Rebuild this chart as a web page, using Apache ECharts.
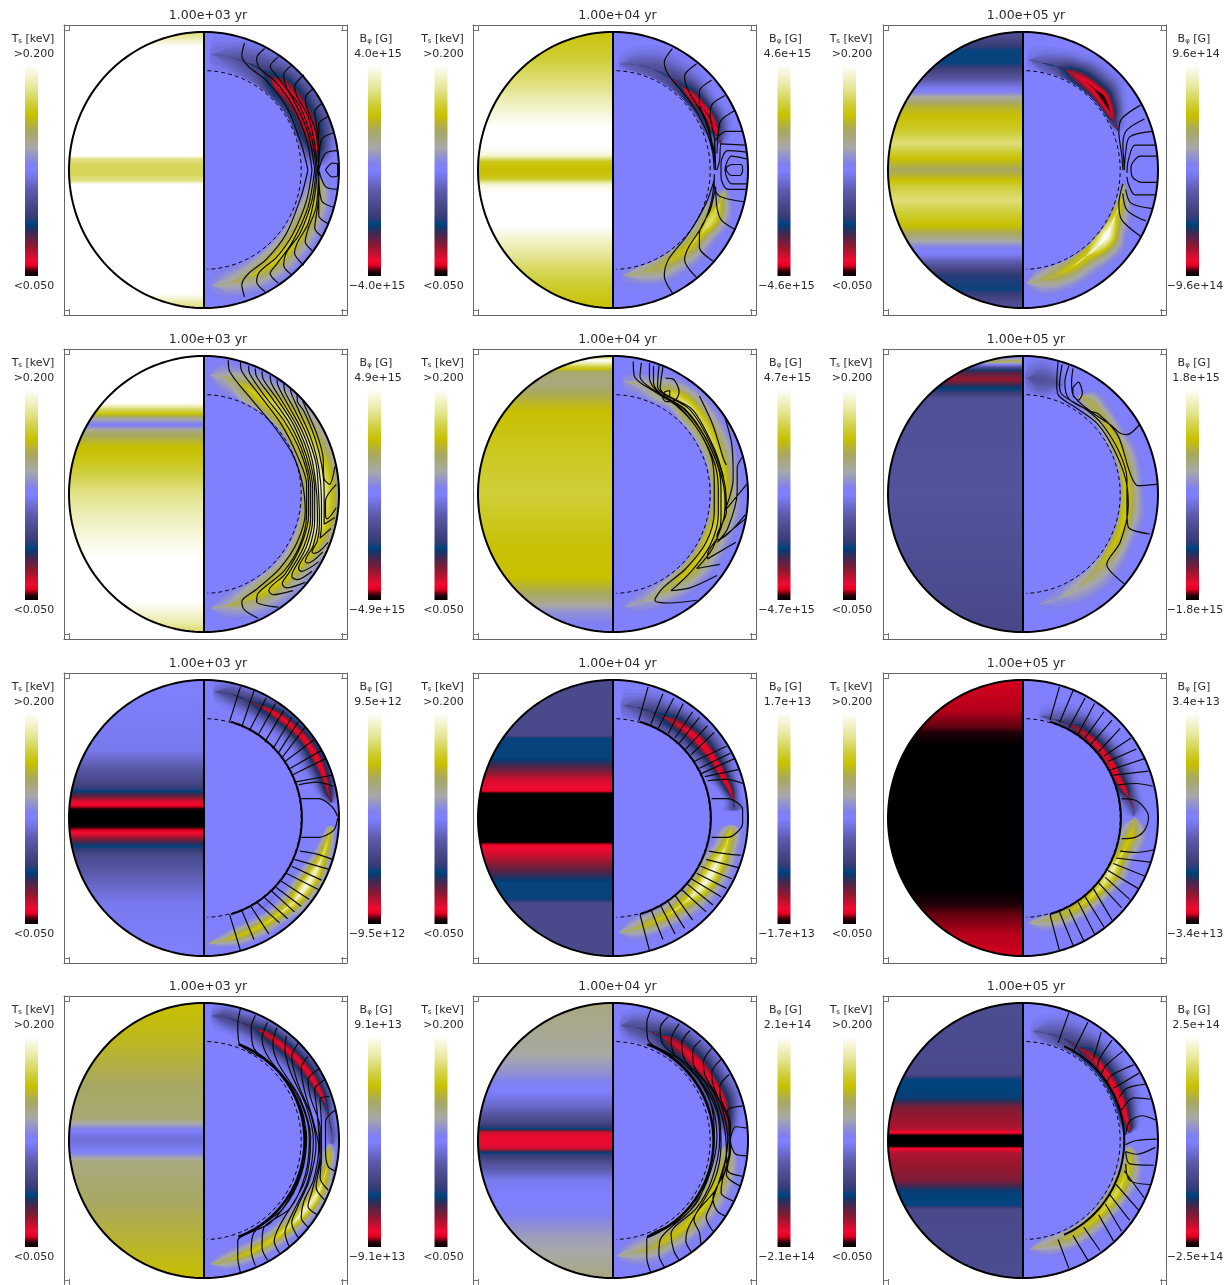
<!DOCTYPE html>
<html style="height: 100%">

<head>
  <meta charset="utf-8">
  <title>Surface temperature and toroidal field</title>
</head>

<body style="height: 100%; margin: 0; background: #fff">
  <div id="container" style="width: 1229px; height: 1285px"></div>
  <script src="https://cdn.jsdelivr.net/npm/echarts@6/dist/echarts.min.js"></script>
  <script type="text/javascript">
    var ages = ['1.00e+03 yr', '1.00e+04 yr', '1.00e+05 yr'];
    var fieldLabels = ['4.0e+15', '4.6e+15', '9.6e+14', '4.9e+15', '4.7e+15', '1.8e+15',
      '9.5e+12', '1.7e+13', '3.4e+13', '9.1e+13', '2.1e+14', '2.5e+14'];

    // colour table of the bars, position 0 (bottom) to 1 (top)
    var tablePos = [0, 0.02, 0.05, 0.075, 0.14, 0.2, 0.235, 0.25, 0.265, 0.3, 0.4, 0.5, 0.53, 0.61, 0.69, 0.76, 0.82, 0.9, 1];
    var tableCol = ['#000000', '#200008', '#e00020', '#f00a30', '#901830', '#402850', '#0a3a70', '#004580', '#283c78',
      '#40407c', '#5a5aaa', '#8080ff', '#8080f0', '#a8a8a8', '#a8a860', '#c8c000', '#d0d040', '#e8e8a0', '#ffffff'];

    // surface temperature per panel: [height along the axis in % of radius, T in keV]
    var tempRows = [
      [[100, .18], [96, .186], [92, .195], [87, .205], [11, .205], [8, .182], [3, .176], [-3, .176], [-8, .182], [-11, .205], [-87, .205], [-92, .195], [-96, .186], [-100, .18]],
      [[100, .166], [85, .17], [60, .182], [40, .195], [22, .205], [11, .195], [6, .168], [0, .163], [-6, .168], [-11, .195], [-22, .205], [-35, .205], [-50, .192], [-70, .178], [-85, .17], [-100, .165]],
      [[100, .105], [92, .095], [87, .088], [77, .088], [70, .1], [63, .115], [58, .125], [52, .145], [46, .158], [39, .164], [29, .17], [19, .18], [12, .17], [5, .16], [0, .153], [-5, .16], [-12, .172], [-22, .18], [-31, .172], [-41, .163], [-48, .15], [-56, .13], [-62, .122], [-69, .105], [-76, .09], [-87, .088], [-93, .098], [-100, .105]],
      [[100, .205], [67, .205], [62, .18], [58, .165], [54, .14], [50, .127], [45, .15], [35, .163], [23, .168], [4, .18], [-18, .19], [-47, .2], [-78, .2], [-92, .188], [-100, .178]],
      [[100, .165], [97, .2], [93.5, .18], [88.6, .152], [81, .148], [60, .164], [35, .168], [0, .172], [-37, .165], [-61, .164], [-76, .15], [-85, .135], [-100, .125]],
      [[100, .12], [96, .155], [92, .105], [89, .08], [83, .07], [78, .083], [74.5, .09], [69, .104], [0, .106], [-100, .099]],
      [[100, .125], [49, .122], [35, .108], [25, .098], [20, .088], [15.5, .075], [12, .063], [9.4, .06], [6.3, .052], [4.6, .05], [-4.3, .05], [-6.3, .052], [-10, .06], [-12.3, .064], [-17, .078], [-21, .088], [-27, .1], [-42.5, .112], [-62, .122], [-100, .125]],
      [[100, .1], [60, .1], [58, .088], [44, .088], [37, .078], [27.5, .064], [20, .06], [17.4, .05], [-17, .05], [-20, .06], [-26, .064], [-38, .077], [-47, .088], [-59, .088], [-62, .1], [-100, .1]],
      [[100, .0572], [78, .0565], [66, .0545], [59, .052], [53, .05], [-52, .05], [-59, .052], [-69, .0545], [-84, .0565], [-100, .0572]],
      [[100, .164], [70, .16], [40, .153], [16, .15], [10, .135], [5.5, .122], [.7, .118], [-5, .122], [-10, .132], [-15, .148], [-44, .153], [-70, .158], [-100, .164]],
      [[100, .148], [65, .143], [50, .135], [36, .125], [24, .115], [14, .1], [8.7, .088], [6, .065], [3, .062], [-3, .062], [-6, .065], [-9, .088], [-17, .105], [-29, .122], [-51, .128], [-70, .138], [-100, .148]],
      [[100, .102], [48, .1], [45, .088], [31, .086], [24, .073], [9, .068], [5.5, .06], [3.6, .05], [-4, .05], [-5.8, .06], [-9, .068], [-29, .073], [-37, .086], [-47.6, .088], [-50, .1], [-100, .102]]
    ];

    // field ridges per panel: [colatitude deg, radius %, half width %, peak as fraction of the bar end]
    var ridges = [
      [
        [[4, 84, 7, -.12], [12, 84, 7, -.22], [22, 84, 9, -.3], [30, 84, 9, -.42], [36, 83, 9, -.62], [42, 83, 9, -.86], [50, 84, 9, -.9], [60, 84, 9, -.9], [70, 84, 9, -.9], [78, 84.5, 6, -.88], [83, 85, 5, -.55], [87, 85, 4, -.15]],
        [[176, 84, 7, .12], [168, 84, 7, .25], [158, 84, 7, .38], [150, 84, 7, .5], [140, 84, 7, .6], [128, 84, 7, .62], [116, 84, 7, .62], [106, 85, 6, .6], [98, 85, 5, .45], [93, 85, 4, .12]]
      ],
      [
        [[4, 77, 6, -.1], [12, 78, 7, -.22], [22, 79, 8, -.3], [32, 79, 8, -.38], [40, 79, 7, -.55], [46, 79, 6, -.85], [54, 80, 5, -.92], [62, 81, 5, -.95], [68, 81, 5, -.88], [73, 82, 4, -.4], [77, 82, 3, -.1]],
        [[174, 77, 6, .12], [165, 77, 6, .3], [155, 78, 7, .42], [145, 78, 7, .5], [135, 79, 7, .55], [125, 80, 6, .58], [118, 81, 6, .75], [112, 82, 6, .68], [106, 83, 5, .45], [100, 84, 4, .15]]
      ],
      [
        [[3, 80, 6, -.08], [10, 79, 6, -.22], [18, 79, 6, -.35], [23, 79, 6, -.55], [28, 79, 6, -.78], [35, 79, 7, -.88], [42, 79, 7, -.93], [48, 79, 7, -1], [53, 78, 6, -.98], [58, 77, 5, -.85], [63, 76, 4, -.5], [68, 76, 3, -.12]],
        [[178, 82, 5, .1], [172, 81, 6, .3], [163, 80, 7, .45], [153, 79, 7, .55], [143, 78, 7, .6], [135, 78, 7, .85], [128, 78, 7, 1], [122, 77, 6, .85], [116, 76, 6, .62], [110, 76, 5, .55], [104, 76, 4, .35], [98, 76, 3, .12]]
      ],
      [
        [[3, 86, 6, .1], [8, 86, 7, .22], [15, 85, 7, .35], [22, 83, 8, .5], [30, 82, 8, .6], [40, 83, 9, .68], [55, 84, 10, .75], [70, 85, 10, .82], [85, 86, 10, .9], [100, 86, 10, .92], [112, 86, 9, .8], [125, 85, 8, .65], [137, 84, 8, .6], [150, 83, 8, .52], [160, 83, 7, .38], [170, 83, 6, .2], [177, 83, 5, .08]]
      ],
      [
        [[6, 82, 5, .15], [15, 82, 6, .25], [25, 83, 7, .45], [33, 85, 6, .65], [42, 84, 7, .75], [55, 83, 7, .7], [70, 82, 7, .68], [85, 81, 7, .68], [100, 81, 7, .68], [112, 79, 7, .65], [122, 79, 7, .6], [134, 79, 7, .55], [146, 79, 7, .42], [156, 80, 6, .3], [166, 81, 6, .18], [175, 82, 5, .08]]
      ],
      [
        [[30, 82, 4, .1], [36, 83, 5, .42], [45, 81, 5, .45], [55, 79, 5, .5], [70, 78, 6, .55], [85, 77, 6, .58], [100, 77, 7, .58], [112, 77, 6, .55], [125, 77, 7, .5], [137, 78, 8, .35], [150, 79, 8, .24], [162, 80, 7, .14], [172, 81, 6, .07]],
        [[2, 84, 7, -.15], [8, 84, 8, -.28], [14, 84, 7, -.25], [20, 84, 5, -.1]]
      ],
      [
        [[5, 84, 2, .1], [15, 84, 3, .22], [30, 83, 3, .22], [45, 83, 3, .22], [60, 86, 3, .15], [72, 90, 2, .08]],
        [[160, 82, 2, -.1], [140, 81, 3, -.2], [125, 83, 3, -.2], [112, 87, 2, -.1]],
        [[5, 92, 4, -.15], [12, 92, 5, -.35], [20, 91, 5, -.45], [27, 91, 5, -.65], [35, 92, 5, -.85], [45, 93, 5, -.88], [55, 94, 5, -.9], [65, 94, 5, -.9], [73, 94, 4, -.85], [79, 94, 3, -.75], [83, 95, 2, -.25]],
        [[178, 91, 3, .12], [172, 90, 3, .3], [163, 89, 4, .52], [152, 89, 4, .58], [142, 89, 4, .62], [133, 90, 5, .75], [124, 90, 5, .95], [116, 91, 5, .88], [108, 92, 4, .68], [100, 93, 3, .58], [94, 94, 2, .35]]
      ],
      [
        [[5, 82, 6, -.15], [12, 82, 6, -.28], [20, 82, 7, -.42], [26, 82, 6, -.6], [33, 83, 6, -.78], [42, 84, 6, -.88], [52, 85, 6, -.9], [62, 86, 5, -.9], [70, 87, 4, -.92], [77, 89, 3, -.85], [82, 90, 3, -.4], [86, 90, 4, -.3]],
        [[177, 83, 4, .1], [170, 82, 5, .3], [160, 81, 5, .5], [150, 81, 5, .55], [140, 81, 6, .6], [130, 82, 6, .85], [122, 83, 6, .95], [112, 84, 6, .85], [104, 86, 5, .65], [98, 87, 5, .55], [94, 88, 4, .3]]
      ],
      [
        [[10, 75, 5, -.1], [18, 75, 6, -.25], [26, 76, 6, -.45], [33, 76, 6, -.75], [40, 76, 5, -.85], [50, 76, 5, -.88], [60, 76, 5, -.92], [68, 76, 5, -.88], [75, 78, 4, -.85], [80, 80, 4, -.45], [85, 82, 4, -.3], [89, 82, 3, -.1]],
        [[177, 76, 4, .1], [170, 76, 5, .28], [160, 76, 5, .45], [150, 76, 5, .52], [140, 76, 5, .6], [130, 76, 5, .75], [120, 76, 6, .85], [112, 77, 5, .65], [105, 79, 6, .55], [99, 81, 6, .55], [94, 82, 5, .45], [90, 83, 3, .12]]
      ],
      [
        [[4, 91, 4, -.15], [10, 91, 5, -.35], [18, 90, 5, -.4], [25, 90, 5, -.55], [31, 90, 5, -.8], [40, 90, 5, -.87], [50, 91, 5, -.88], [60, 92, 5, -.88], [68, 93, 4, -.85], [74, 94, 3, -.6], [80, 94, 3, -.3], [88, 95, 3, -.25], [93, 95, 2, -.1]],
        [[177, 90, 3, .12], [170, 89, 4, .35], [160, 88, 4, .52], [150, 88, 4, .58], [142, 88, 4, .62], [133, 89, 4, .72], [125, 90, 4, .9], [116, 92, 4, .85], [108, 93, 4, .6], [102, 93, 3, .55], [96, 93, 3, .5], [92, 93, 2, .2]]
      ],
      [
        [[4, 84, 5, -.12], [10, 84, 6, -.3], [18, 84, 7, -.35], [24, 84, 7, -.5], [30, 84, 7, -.78], [40, 84, 7, -.88], [50, 84, 7, -.9], [60, 85, 6, -.88], [70, 86, 6, -.88], [78, 86, 4, -.82], [84, 86, 3, -.5], [88, 86, 2, -.1]],
        [[178, 84, 5, .1], [170, 83, 6, .28], [160, 83, 6, .42], [150, 82, 6, .52], [140, 82, 6, .55], [130, 82, 6, .58], [120, 83, 6, .6], [110, 84, 6, .58], [102, 85, 5, .55], [96, 85, 4, .45], [92, 85, 3, .15]]
      ],
      [
        [[5, 80, 6, -.08], [12, 80, 7, -.22], [22, 80, 8, -.35], [30, 79, 8, -.45], [37, 79, 7, -.75], [45, 79, 6, -.85], [55, 78, 6, -.88], [65, 78, 6, -.88], [72, 78, 5, -.9], [78, 78, 4, -.88], [83, 79, 3, -.8], [86, 79, 2, -.15]],
        [[176, 79, 4, .1], [168, 78, 5, .28], [158, 78, 5, .42], [148, 78, 5, .5], [138, 78, 5, .55], [128, 78, 5, .65], [118, 79, 5, .7], [110, 80, 6, .58], [103, 81, 5, .52], [97, 80, 4, .45], [93, 79, 3, .12]]
      ]
    ];

    // inner thick contour per panel: [first colatitude, last colatitude, radius %, line width], null if none
    var innerRings = [null, null, null, null, null, null,
      [16, 164, 72.5, 2], [16, 164, 72.5, 2], [16, 164, 72.5, 2],
      [20, 160, 74.5, 2.5], [20, 160, 74.5, 2.5], [24, 156, 75, 2]];

    // contours per panel, each one a flat list x, y, x, y ... in % of radius
    var contours1 = [
      [30, 92, 28, 83, 33, 75, 46, 65, 61, 46, 72, 19, 77, 0],
      [45, 88, 39, 81, 41, 74, 54, 63, 66, 46, 76, 22, 80, 0],
      [55, 82, 49, 75, 54, 68, 65, 53, 77, 27, 82, 0],
      [65, 76, 59, 69, 61, 60, 71, 46, 80, 22, 83, 0],
      [74, 69, 67, 60, 69, 53, 77, 39, 82, 19, 84, 0],
      [81, 59, 75, 52, 77, 43, 83, 27, 85, 0],
      [87, 48, 82, 42, 83, 34, 85, 19, 85, 5, 84, 0],
      [92, 39, 85, 33, 85, 19, 85, 0],
      [96, 27, 87, 22, 85, 0],
      [99, 14, 90, 12, 85, 0],
      [90, 0, 95, 5, 99, 4, 99, 0],
      [30, -92, 28, -83, 33, -75, 46, -65, 61, -46, 72, -19, 77, 0],
      [45, -88, 39, -81, 41, -74, 54, -63, 66, -46, 76, -22, 80, 0],
      [55, -82, 49, -75, 54, -68, 65, -53, 77, -27, 82, 0],
      [65, -76, 59, -69, 61, -60, 71, -46, 80, -22, 83, 0],
      [74, -69, 67, -60, 69, -53, 77, -39, 82, -19, 84, 0],
      [81, -59, 75, -52, 77, -43, 83, -27, 85, 0],
      [87, -48, 82, -42, 83, -34, 85, -19, 85, -5, 84, 0],
      [92, -39, 85, -33, 85, -19, 85, 0],
      [96, -27, 87, -22, 85, 0],
      [99, -14, 90, -12, 85, 0],
      [90, 0, 95, -5, 99, -4, 99, 0]
    ];
    var contours2 = [
      [44, 88, 38, 78, 41, 69, 56, 51, 68, 31, 74, 12, 75, 0],
      [62, 77, 53, 68, 56, 57, 67, 39, 73, 19, 75, 0],
      [73, 65, 64, 57, 64, 48, 70, 34, 75, 12],
      [83, 54, 73, 47, 72, 39, 75, 24, 76, 0],
      [90, 43, 80, 36, 78, 28, 77, 12],
      [96, 28, 84, 28, 75, 19, 75, 5],
      [98, 18, 80, 19, 79, 7, 77, 0],
      [99, 13, 85, 14, 80, 5, 80, -5, 85, -14, 99, -14],
      [99, 8, 88, 10, 83, 0, 88, -10, 99, -10],
      [84, 2, 88, 4, 95, 4, 96, 0, 94, -4, 88, -4, 84, 0, 84, 2],
      [97, -23, 79, -19, 75, -12, 75, -3],
      [44, -89, 38, -77, 41, -65, 56, -46, 69, -24, 75, -7],
      [62, -78, 53, -65, 56, -56, 67, -39, 73, -22, 75, -7],
      [74, -66, 64, -56, 64, -46, 72, -29, 76, -12],
      [90, -43, 80, -36, 77, -27, 76, -12]
    ];
    var contours3 = [
      [87, 47, 73, 37, 71, 27, 73, 12, 74, 0],
      [90, 37, 77, 29, 74, 19, 75, 2],
      [96, 28, 79, 24, 76, 12, 75, 0],
      [98, 18, 83, 18, 78, 7, 77, -2],
      [99, 10, 87, 10, 80, 2, 81, -5, 88, -9, 99, -9],
      [98, -18, 83, -18, 78, -10, 77, -5],
      [96, -28, 80, -24, 76, -14],
      [91, -37, 77, -29, 74, -17],
      [87, -48, 73, -36, 71, -24, 74, -10]
    ];
    var contours4 = [
      [18, 97, 19, 89, 34, 70, 51, 50, 66, 28, 73, 7, 75, -13, 69, -35, 56, -54, 39, -69, 28, -78, 30, -84, 40, -90],
      [27, 96, 28, 89, 41, 72, 57, 51, 69, 28, 76, 7, 76, -15, 71, -37, 59, -56, 40, -72, 39, -78, 55, -82],
      [33, 93, 34, 87, 45, 71, 60, 52, 72, 29, 77.5, 7, 77.5, -15, 72, -37, 60, -58, 48, -70, 51, -73, 66, -70],
      [38, 91, 39, 85, 50, 70, 64, 50, 74, 28, 79, 5, 79, -17, 74, -38, 63, -57, 58, -65, 61, -68, 75, -64],
      [43, 89, 44, 83, 54, 69, 67, 49, 76, 27, 80.5, 4, 80.5, -18, 76, -38, 66, -56, 65, -60, 69, -62, 80, -56],
      [49, 86, 50, 80, 58, 67, 70, 47, 78, 26, 82, 2, 82, -19, 78, -39, 70, -54, 72, -56, 85, -49],
      [54, 83, 55, 78, 62, 65, 73, 45, 80, 25, 83.5, 0, 84, -20, 81, -37, 75, -49, 77, -50, 88, -42],
      [59, 80, 60, 74, 66, 63, 76, 43, 83, 22, 85, -2, 85.5, -21, 84, -34, 80, -42, 82, -43, 92, -35],
      [64, 76, 65, 72, 70, 61, 79, 41, 85, 19, 87, -4, 87, -24, 86, -32, 94, -25],
      [69, 72, 69, 68, 74, 60, 82, 41, 87, 22, 89, 2, 89, -18, 89, -22, 97, -17],
      [73, 68, 75, 63, 83, 45, 88, 28, 89, 11, 93, 7, 97, 20],
      [98, 7, 90, -5, 90, -15, 91, -18, 98, -10]
    ];
    var contours5 = [
      [15, 96, 16, 85, 31, 74, 47, 64, 62, 48, 73, 26, 75, 7, 75, -13, 69, -35, 54, -54, 37, -68, 31, -77, 42, -79, 62, -77],
      [21, 95, 20, 85, 32, 74, 49, 63, 64, 45, 75, 23, 78, 4, 78, -15, 72, -37, 58, -56, 43, -70, 57, -68, 77, -59],
      [27, 95, 27, 84, 33, 74, 52, 62, 67, 43, 78, 19, 80, 2, 80, -18, 74, -39, 62, -54, 79, -51],
      [30, 93, 30, 81, 35, 73, 54, 61, 69, 40, 80, 14, 83, -6, 82, -18, 77, -32, 70, -44, 70, -47, 91, -35],
      [34, 93, 33, 78, 57, 61, 73, 35, 83, 6, 84, -13, 77, -31, 78, -33, 98, -15],
      [37, 92, 35, 77, 59, 61, 75, 33, 82, 12],
      [64, 71, 74, 50, 82, 25, 84, 21],
      [83, 55, 88, 36, 89, 11, 83, -12, 99, 7],
      [96, 27, 92, 19, 92, 2, 85, -25, 77, -35, 98, -18],
      [39, 84, 45, 83, 49, 74, 46, 68, 39, 67, 36, 72],
      [38, 74, 42, 75, 42, 71, 38, 70, 38, 74]
    ];
    var contours6 = [
      [26, 96, 25, 81, 26, 72, 40, 62, 55, 51, 67, 33, 76, 11, 78, -8, 72, -35, 62, -51, 75, -65],
      [29, 94, 27, 79, 29, 72, 47, 61, 59, 50, 71, 31, 77, 11, 77, -13, 78, -24, 94, -29],
      [34, 93, 31, 81, 34, 69, 50, 60, 56, 58, 70, 43, 78, 19, 81, 11, 85, 6, 99, 7],
      [37, 91, 36, 81, 37, 72, 50, 60, 65, 50, 72, 44, 77, 43, 86, 50],
      [37, 77, 41, 81, 44, 73, 41, 68, 37, 72, 37, 77]
    ];
    var contours7 = [
      [19, 70, 27, 95], [28, 66, 37, 92], [34, 64, 46, 87], [40, 60, 53, 83], [45, 55, 59, 78], [51, 50, 65, 73], [55, 47, 70, 70],
      [58, 44, 75, 66], [60, 41, 82, 57], [64, 36, 87, 49], [65, 31, 90, 43], [67, 26, 95, 31], [70, 24, 83, 26, 96, 23],
      [72, 14, 85, 14, 95, 8, 99, 1], [72, -14, 85, -14, 96, -9, 99, 0],
      [71, -24, 83, -26, 95, -30], [67, -30, 92, -37], [65, -35, 87, -45], [61, -40, 85, -52], [56, -45, 78, -59], [53, -50, 72, -64],
      [49, -52, 67, -68], [44, -57, 62, -73], [39, -61, 56, -76], [34, -63, 48, -84], [28, -67, 37, -88], [19, -70, 27, -96]
    ];
    var contours8 = [
      [19, 70, 26, 95], [28, 68, 37, 90], [33, 64, 45, 87], [41, 61, 52, 83], [46, 58, 59, 77], [49, 54, 64, 73], [53, 49, 70, 67],
      [58, 46, 75, 62], [60, 41, 84, 52], [64, 36, 87, 47], [65, 32, 90, 43], [68, 30, 93, 35], [70, 27, 84, 28, 96, 25],
      [73, 14, 85, 14, 96, 6, 96, -4, 85, -14, 73, -14],
      [71, -24, 84, -26, 95, -27], [69, -30, 93, -36], [65, -35, 88, -44], [62, -40, 84, -51], [58, -44, 80, -57], [54, -47, 74, -63],
      [51, -52, 69, -68], [46, -56, 59, -74], [41, -61, 53, -80], [35, -63, 46, -84], [28, -66, 37, -88], [20, -70, 27, -96]
    ];
    var contours9 = [
      [20, 71, 27, 95], [27, 69, 37, 92], [34, 65, 46, 87], [41, 61, 53, 83], [46, 58, 60, 77], [50, 53, 66, 71], [56, 48, 72, 65],
      [60, 45, 80, 58], [63, 41, 84, 50], [65, 35, 90, 43], [67, 31, 93, 34], [70, 24, 84, 25, 96, 23],
      [73, 14, 85, 12, 93, 1, 90, -9, 83, -14, 73, -15],
      [72, -24, 84, -25, 97, -23], [69, -29, 94, -32], [67, -33, 90, -42], [63, -38, 85, -51], [61, -43, 79, -59], [56, -47, 73, -65],
      [52, -51, 66, -74], [46, -57, 60, -79], [41, -61, 53, -84], [34, -66, 45, -89], [27, -68, 37, -92], [20, -70, 27, -96]
    ];
    var contours10 = [
      [27, 96, 25, 84, 26, 71, 49, 56, 66, 36, 75, 9, 75, -8, 66, -37, 49, -60, 25, -73, 25, -85, 27, -96],
      [38, 91, 35, 82, 37, 67, 60, 45, 72, 21, 76, 2, 72, -25, 59, -49, 37, -67, 35, -80, 38, -91],
      [47, 86, 43, 74, 48, 60, 66, 38, 76, 16, 78, 0, 75, -25, 64, -49, 44, -64, 43, -78, 47, -87],
      [54, 82, 51, 71, 55, 56, 71, 31, 79, 2, 75, -29, 56, -62, 52, -73, 56, -82],
      [61, 76, 60, 67, 64, 50, 76, 24, 81, 0, 77, -29, 64, -56, 60, -67, 63, -77],
      [70, 71, 65, 61, 69, 43, 79, 19, 83, -3, 78, -29, 69, -49, 65, -60, 70, -71],
      [77, 61, 72, 53, 74, 38, 81, 14, 85, -5, 81, -29, 74, -44, 72, -56, 77, -63],
      [85, 52, 77, 44, 79, 31, 86, 9, 86, -10, 80, -37, 77, -48, 84, -54],
      [89, 44, 82, 37, 84, 19, 86, -15, 83, -34, 89, -43],
      [93, 32, 86, 30, 87, 12, 87, -13, 86, -27, 92, -36],
      [97, 22, 90, 14, 90, -8, 92, -19, 97, -22]
    ];
    var contours11 = [
      [28, 95, 25, 85, 26, 73, 49, 59, 69, 36, 75, 9, 74, -10, 64, -42, 49, -58, 25, -72, 25, -85, 28, -96],
      [41, 90, 35, 82, 37, 70, 57, 53, 73, 26, 77, 2, 70, -29, 57, -51, 35, -72, 34, -83, 38, -92],
      [49, 85, 43, 73, 46, 62, 64, 45, 77, 21, 79, 0, 73, -29, 62, -49, 43, -68, 45, -80, 49, -87],
      [57, 80, 51, 71, 53, 59, 69, 41, 79, 16, 80, -3, 75, -29, 56, -63, 54, -73, 58, -81],
      [65, 73, 59, 65, 60, 54, 74, 36, 82, 12, 84, -8, 77, -34, 60, -58, 64, -67, 65, -75],
      [73, 67, 67, 57, 68, 48, 80, 26, 85, 0, 83, -15, 73, -46, 69, -56, 74, -66],
      [80, 59, 73, 49, 75, 38, 85, 16, 87, 0, 83, -22, 74, -42, 77, -51, 83, -55],
      [86, 48, 79, 39, 80, 30, 87, 12, 87, -8, 81, -29, 80, -38, 89, -44],
      [96, 25, 85, 22, 86, 9, 86, -11, 84, -25, 94, -33],
      [99, 9, 91, 10, 87, 0, 91, -10, 99, -11],
      [84, -5, 85, -22, 96, -26]
    ];
    var contours12 = [
      [34, 93, 26, 71], [48, 86, 37, 64], [58, 79, 52, 59], [66, 73, 57, 60, 55, 53], [74, 65, 61, 54, 58, 48], [82, 55, 65, 47, 62, 41],
      [86, 49, 67, 38], [91, 41, 77, 38, 71, 31], [95, 30, 82, 31, 73, 22], [98, 15, 88, 18, 79, 14, 76, 4], [99, 1, 84, 0, 76, -3],
      [98, -5, 84, -10, 76, -8], [76, -8, 79, -17, 97, -18], [76, -17, 79, -29, 94, -32], [75, -22, 90, -42], [69, -32, 86, -51],
      [64, -39, 79, -58], [61, -46, 73, -66], [56, -54, 67, -73], [45, -63, 57, -80], [37, -69, 48, -87], [26, -72, 34, -93]
    ];
    var contours = [contours1, contours2, contours3, contours4, contours5, contours6,
      contours7, contours8, contours9, contours10, contours11, contours12];

    var ridgeLevels = [.03, .06, .09, .12, .15, .18, .21, .24, .27, .3, .33, .36, .39, .42, .45, .48, .51, .54, .57, .6,
      .63, .66, .69, .72, .75, .78, .81, .84, .87, .9, .92, .94, .96, .98];

    var colLeft = [64, 473, 883];
    var rowTop = [25, 349, 673, 996];
    var PX_X = 1.35, PX_Y = 1.38; // pixels per % of radius
    var crustRadius = 72;
    var ridgeSpread = 1.3;
    var textFont = 'DejaVu Sans';
    var textColor = '#2a2a2a';

    function hexRgb(h) {
      return [parseInt(h.substr(1, 2), 16), parseInt(h.substr(3, 2), 16), parseInt(h.substr(5, 2), 16)];
    }
    function colorAt(p) {
      p = Math.max(0, Math.min(1, p));
      var i = 0;
      while (i < tablePos.length - 2 && p > tablePos[i + 1]) i++;
      var f = (p - tablePos[i]) / (tablePos[i + 1] - tablePos[i]);
      var a = hexRgb(tableCol[i]), b = hexRgb(tableCol[i + 1]);
      return 'rgb(' + [0, 1, 2].map(function (k) { return Math.round(a[k] + (b[k] - a[k]) * f); }).join(',') + ')';
    }
    function polar(colat, r) {
      var t = colat * Math.PI / 180;
      return [r * Math.sin(t), r * Math.cos(t)];
    }
    function arcPoints(api, from, to, r) {
      var pts = [];
      for (var c = from; c <= to + 0.01; c += 2) pts.push(api.coord(polar(c, r)));
      return pts;
    }

    function tempStops(rows) {
      var stops = [];
      for (var s = 0; s <= 300; s++) {
        var y = 100 - 200 * s / 300, j = 0;
        while (j < rows.length - 2 && y < rows[j + 1][0]) j++;
        var f = (rows[j][0] - y) / (rows[j][0] - rows[j + 1][0]);
        var t = rows[j][1] + (rows[j + 1][1] - rows[j][1]) * f;
        stops.push({ offset: s / 300, color: colorAt((t - 0.05) / 0.15) });
      }
      return stops;
    }

    function ridgePolygon(ridge, sign) {
      return function (params, api) {
        var outer = [], inner = [];
        var L = api.value(0);
        ridge.forEach(function (q) {
          var a = Math.abs(q[3]);
          // long tails, the halo around a ridge reaches further than a plain bell
          var h = a > L ? ridgeSpread * q[2] * Math.pow(Math.log(a / L), 0.65) : 0;
          outer.push(api.coord(polar(q[0], Math.min(q[1] + h, 99.5))));
          inner.unshift(api.coord(polar(q[0], Math.max(q[1] - h, crustRadius + 1))));
        });
        return {
          type: 'polygon',
          shape: { points: outer.concat(inner), smooth: 0.35 },
          style: { fill: colorAt((1 + sign * L) / 2) },
          silent: true
        };
      };
    }

    var grids = [], xAxes = [], yAxes = [], series = [], titles = [], bars = [];

    function sideAxis(g, pos, lo, hi, ticks) {
      return {
        type: 'value', gridIndex: g, position: pos, min: lo, max: hi, silent: true,
        axisLine: { show: true, onZero: false, lineStyle: { color: '#666', width: 1 } },
        axisTick: { show: true, inside: true, length: 6, customValues: ticks, lineStyle: { color: '#777', width: 1 } },
        axisLabel: { show: false },
        splitLine: { show: false }
      };
    }
    function addText(text, cx, top, size) {
      titles.push({
        text: text, left: cx, top: top, textAlign: 'center', padding: 0,
        textStyle: {
          fontFamily: textFont, fontSize: size, fontWeight: 'normal', color: textColor,
          rich: {
            a: { fontFamily: textFont, fontSize: size, color: textColor },
            s: { fontFamily: textFont, fontSize: 7, color: textColor, verticalAlign: 'bottom', padding: [4, 0, 0, 0] }
          }
        }
      });
    }

    tempRows.forEach(function (rows, i) {
      var col = i % 3, row = Math.floor(i / 3);
      var left = colLeft[col], top = rowTop[row];
      var xMin = -140 / PX_X, xMax = 143 / PX_X, yMax = 145 / PX_Y;
      var ax = i * 2;
      grids.push({ left: left, top: top, width: 283, height: 290 });
      xAxes.push(sideAxis(i, 'bottom', xMin, xMax, [xMin + 3.7, xMax - 3.7]), sideAxis(i, 'top', xMin, xMax, [xMin + 3.7, xMax - 3.7]));
      yAxes.push(sideAxis(i, 'left', -yMax, yMax, [-yMax + 3.7, yMax - 3.7]), sideAxis(i, 'right', -yMax, yMax, [-yMax + 3.7, yMax - 3.7]));

      // left half: surface temperature
      series.push({
        type: 'custom', coordinateSystem: 'cartesian2d', xAxisIndex: ax, yAxisIndex: ax, z: 2, silent: true,
        data: rows, encode: { x: -1, y: 0 },
        renderItem: function (params, api) {
          if (params.dataIndex !== 0) return null;
          var pts = arcPoints(api, 0, 180, 100).map(function (p) { return [2 * api.coord([0, 0])[0] - p[0], p[1]]; });
          return {
            type: 'polygon', shape: { points: pts },
            style: { fill: new echarts.graphic.LinearGradient(0, 0, 0, 1, tempStops(rows)) }
          };
        }
      });
      // right half: field, background level
      series.push({
        type: 'custom', coordinateSystem: 'cartesian2d', xAxisIndex: ax, yAxisIndex: ax, z: 2, silent: true,
        data: [[0]], encode: { x: -1, y: -1 },
        renderItem: function (params, api) {
          return { type: 'polygon', shape: { points: arcPoints(api, 0, 180, 100) }, style: { fill: colorAt(0.5) } };
        }
      });
      ridges[i].forEach(function (ridge) {
        var sign = ridge[0][3] < 0 ? -1 : 1;
        series.push({
          type: 'custom', coordinateSystem: 'cartesian2d', xAxisIndex: ax, yAxisIndex: ax, z: 3, silent: true,
          data: ridgeLevels.map(function (l) { return [l]; }), encode: { x: -1, y: -1 },
          renderItem: ridgePolygon(ridge, sign)
        });
      });
      // contours, broken by gaps
      var lineData = [];
      contours[i].forEach(function (c) {
        for (var k = 0; k < c.length; k += 2) lineData.push([c[k], c[k + 1]]);
        lineData.push(['-', '-']);
      });
      series.push({
        type: 'line', xAxisIndex: ax, yAxisIndex: ax, z: 4, silent: true, data: lineData,
        showSymbol: false, smooth: 0.3, connectNulls: false,
        lineStyle: { color: '#0a0a0a', width: 1.2 }
      });
      // outlines
      series.push({
        type: 'custom', coordinateSystem: 'cartesian2d', xAxisIndex: ax, yAxisIndex: ax, z: 5, silent: true,
        data: [[0]], encode: { x: -1, y: -1 }, clip: false,
        renderItem: function (params, api) {
          var right = arcPoints(api, 0, 180, 100);
          var centre = api.coord([0, 0])[0];
          var leftArc = right.map(function (p) { return [2 * centre - p[0], p[1]]; });
          var kids = [
            { type: 'polyline', shape: { points: right }, style: { stroke: '#000', lineWidth: 2, fill: null } },
            { type: 'polyline', shape: { points: leftArc }, style: { stroke: '#000', lineWidth: 2, fill: null } },
            { type: 'line', shape: { x1: centre, y1: right[0][1], x2: centre, y2: right[right.length - 1][1] }, style: { stroke: '#000', lineWidth: 2 } },
            { type: 'polyline', shape: { points: arcPoints(api, 2, 178, crustRadius) }, style: { stroke: '#000', lineWidth: 1, lineDash: [4, 3], fill: null } }
          ];
          if (innerRings[i]) {
            kids.push({
              type: 'polyline',
              shape: { points: arcPoints(api, innerRings[i][0], innerRings[i][1], innerRings[i][2]) },
              style: { stroke: '#000', lineWidth: innerRings[i][3], fill: null }
            });
          }
          return { type: 'group', children: kids };
        }
      });

      var dx = col === 0 ? 0 : col === 1 ? 409.5 : 818;
      var dy = top - 25;
      bars.push({ left: 25 + dx, top: 65 + dy });
      bars.push({ left: 368 + dx, top: 65 + dy });

      addText(ages[col], 208 + dx, 9 + dy, 12.5);
      addText('{a|T}{s|s}{a| [keV]}', 33 + dx, 34 + dy, 11);
      addText('>0.200', 34 + dx, 49 + dy, 11);
      addText('<0.050', 34 + dx, 281 + dy, 11);
      addText('{a|B}{s|φ}{a| [G]}', 376 + dx, 34 + dy, 11);
      addText(fieldLabels[i], 378 + dx, 49 + dy, 11);
      addText('−' + fieldLabels[i], 377 + dx, 281 + dy, 11);
    });

    // colour bars, each one a small grid of its own with the table as a gradient
    bars.forEach(function (b) {
      var g = grids.length, a = xAxes.length;
      grids.push({ left: b.left, top: b.top, width: 13, height: 211 });
      xAxes.push({ type: 'value', gridIndex: g, min: 0, max: 1, show: false });
      yAxes.push({ type: 'value', gridIndex: g, min: 0, max: 1, show: false });
      series.push({
        type: 'custom', coordinateSystem: 'cartesian2d', xAxisIndex: a, yAxisIndex: a, z: 2, silent: true,
        data: [[0, 0]], encode: { x: 0, y: 1 },
        renderItem: function (params, api) {
          var p0 = api.coord([0, 1]), p1 = api.coord([1, 0]);
          var stops = [];
          for (var n = 0; n <= 200; n++) stops.push({ offset: n / 200, color: colorAt(1 - n / 200) });
          return {
            type: 'rect',
            shape: { x: p0[0], y: p0[1], width: p1[0] - p0[0], height: p1[1] - p0[1] },
            style: { fill: new echarts.graphic.LinearGradient(0, 0, 0, 1, stops) }
          };
        }
      });
    });

    var myChart = echarts.init(document.getElementById('container'));
    myChart.setOption({
      animation: false,
      backgroundColor: '#fff',
      title: titles,
      grid: grids,
      xAxis: xAxes,
      yAxis: yAxes,
      series: series
    });
  </script>
</body>

</html>
